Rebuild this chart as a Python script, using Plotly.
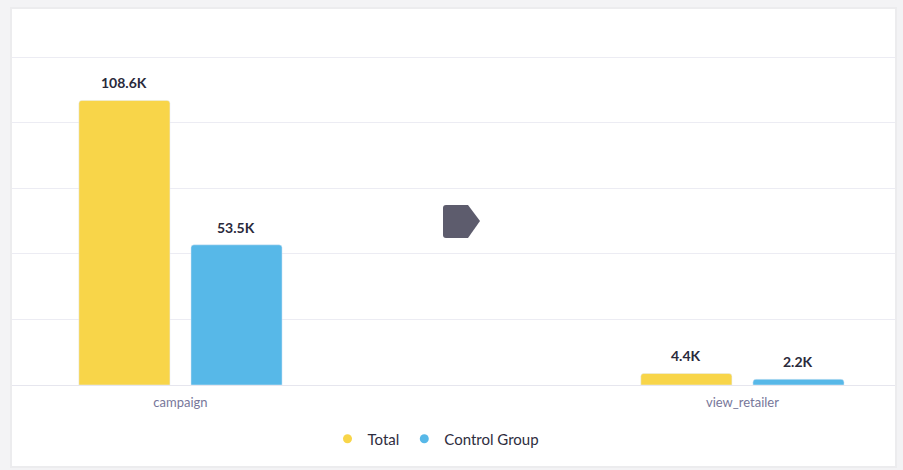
import plotly.graph_objects as go

categories = ["campaign", "view_retailer"]
total_values = [108600, 4400]
control_values = [53500, 2200]
series_names = ["Total", "Control Group"]

YELLOW = "#F8D549"
BLUE = "#57B8E8"
FONT = "Lato, 'Noto Sans', sans-serif"

# plot area geometry in pixels
W, H = 903, 470
L, R, T, B = 12, 8, 10, 85
PW = W - L - R
PH = H - T - B


def px(x):
    return (x - L) / PW


def py(y):
    return (H - B - y) / PH


fig = go.Figure()
fig.add_trace(go.Bar(x=categories, y=total_values, name=series_names[0],
                     marker_color=YELLOW, showlegend=False))
fig.add_trace(go.Bar(x=categories, y=control_values, name=series_names[1],
                     marker_color=BLUE, showlegend=False))
# legend entries with round markers
for nm, col in zip(series_names, [YELLOW, BLUE]):
    fig.add_trace(go.Scatter(x=[None], y=[None], mode="markers", name=nm,
                             marker=dict(color=col, size=9, symbol="circle")))

annotations = []
for vals, shift in [(total_values, -56), (control_values, 56)]:
    for c, v in zip(categories, vals):
        annotations.append(dict(
            x=c, y=v, xref="x", yref="y", text=f"<b>{v/1000:.1f}K</b>",
            showarrow=False, xshift=shift, yanchor="bottom", yshift=7,
            font=dict(family=FONT, size=14, color="#2a2a3b")))

shapes = [
    # card shadow + card
    dict(type="rect", xref="paper", yref="paper", layer="below",
         x0=px(10), x1=px(897), y0=py(468), y1=py(7),
         fillcolor="#ececee", line_width=0),
    dict(type="rect", xref="paper", yref="paper", layer="below",
         x0=px(12), x1=px(895), y0=py(466), y1=py(9),
         fillcolor="white", line_width=0),
]
# pentagon tag marker
x0, xt = px(443), px(480)
yt, ym, yb = py(205), py(221), py(238)
ya, yc = py(208), py(235)
pent = (f"M {px(446)},{yt} L {px(468)},{yt} L {xt},{ym} L {px(468)},{yb} "
        f"L {px(446)},{yb} Q {x0},{yb} {x0},{yc} L {x0},{ya} Q {x0},{yt} {px(446)},{yt} Z")
shapes.append(dict(type="path", xref="paper", yref="paper", path=pent,
                   fillcolor="#5d5c6d", line_width=0, layer="above"))

fig.update_layout(
    width=W, height=H,
    margin=dict(l=L, r=R, t=T, b=B, pad=0),
    paper_bgcolor="#f3f3f5",
    plot_bgcolor="rgba(0,0,0,0)",
    barmode="group", bargap=0.601, bargroupgap=0.1875, barcornerradius=3,
    font=dict(family=FONT),
    annotations=annotations,
    shapes=shapes,
    showlegend=True,
    legend=dict(orientation="h", x=px(436), xanchor="center",
                y=py(439), yanchor="middle",
                font=dict(family=FONT, size=15, color="#2e2d40"),
                bgcolor="rgba(0,0,0,0)"),
    xaxis=dict(range=[-0.2998, 1.2715], showgrid=False, zeroline=False,
               showline=False, ticks="", ticklabelstandoff=8,
               tickfont=dict(family=FONT, size=13, color="#77779a")),
    yaxis=dict(range=[0, 143100], dtick=25000, showticklabels=False,
               gridcolor="#ececf3", gridwidth=1, zeroline=True,
               zerolinecolor="#e6e6ee", zerolinewidth=1, showline=False),
)

fig.write_html("out.html")
